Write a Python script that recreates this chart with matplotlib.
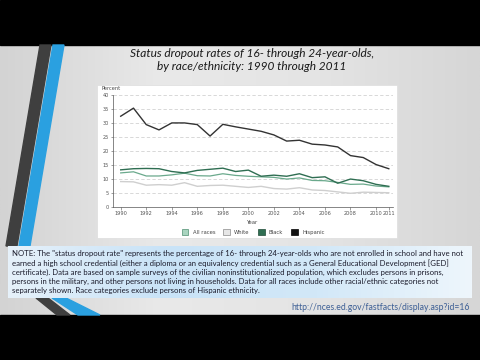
import matplotlib
matplotlib.use("Agg")
import matplotlib.pyplot as plt
import numpy as np
from matplotlib.patches import Rectangle, Polygon, Patch
from matplotlib.colors import LinearSegmentedColormap

# --- data ---
years = list(range(1990, 2012))
all_races = [12.1, 12.5, 11.0, 11.0, 11.4, 12.0, 11.1, 11.0, 11.8, 11.2, 10.9,
             10.7, 10.5, 9.9, 10.3, 9.4, 9.3, 8.7, 8.0, 8.1, 7.4, 7.1]
white = [9.0, 8.9, 7.7, 7.9, 7.7, 8.6, 7.3, 7.6, 7.7, 7.3, 6.9,
         7.3, 6.5, 6.3, 6.8, 6.0, 5.8, 5.3, 4.8, 5.2, 5.1, 5.0]
black = [13.2, 13.6, 13.7, 13.6, 12.6, 12.1, 13.0, 13.4, 13.8, 12.6, 13.1,
         10.9, 11.3, 10.9, 11.8, 10.4, 10.7, 8.4, 9.9, 9.3, 8.0, 7.3]
hispanic = [32.4, 35.3, 29.4, 27.5, 30.0, 30.0, 29.4, 25.3, 29.5, 28.6, 27.8,
            27.0, 25.7, 23.5, 23.8, 22.4, 22.1, 21.4, 18.3, 17.6, 15.1, 13.6]
xtick_years = [1990, 1992, 1994, 1996, 1998, 2000, 2002, 2004, 2006, 2008, 2010, 2011]
yticks = [0, 5, 10, 15, 20, 25, 30, 35, 40]

title = ("Status dropout rates of 16- through 24-year-olds,\n"
         "by race/ethnicity: 1990 through 2011")
note = ('NOTE: The "status dropout rate" represents the percentage of 16- through 24-year-olds who are not enrolled in school and have not\n'
        'earned a high school credential (either a diploma or an equivalency credential such as a General Educational Development [GED]\n'
        'certificate). Data are based on sample surveys of the civilian noninstitutionalized population, which excludes persons in prisons,\n'
        'persons in the military, and other persons not living in households. Data for all races include other racial/ethnic categories not\n'
        'separately shown. Race categories exclude persons of Hispanic ethnicity.')
url = "http://nces.ed.gov/fastfacts/display.asp?id=16"

W, H = 480, 360
fig = plt.figure(figsize=(4.8, 3.6), dpi=100)

# background "slide" axes in pixel coordinates
bg = fig.add_axes([0, 0, 1, 1])
bg.set_xlim(0, W)
bg.set_ylim(H, 0)
bg.axis("off")
grad = np.linspace(0, 1, 256)[None, :]
slide_cmap = LinearSegmentedColormap.from_list("slide", ["#d3d3d3", "#e9e9e9", "#e4e4e4", "#d6d6d6"])
bg.imshow(grad, extent=[0, W, 315, 45], cmap=slide_cmap, aspect="auto", zorder=0)
bg.add_patch(Rectangle((0, 0), W, 45, color="black", zorder=1))
bg.add_patch(Rectangle((0, 315), W, 45, color="black", zorder=1))

# decorative stripes
bg.add_patch(Polygon([(40, 45), (51, 45), (17, 246), (6, 246)], color="#3f3f3f", zorder=2))
bg.add_patch(Polygon([(53, 45), (64, 45), (30, 246), (19, 246)], color="#2aa0e0", zorder=2))
bg.add_patch(Polygon([(36, 298), (48, 298), (70, 315), (57, 315)], color="#3f3f3f", zorder=2))
bg.add_patch(Polygon([(52, 298), (66, 298), (100, 315), (78, 315)], color="#2aa0e0", zorder=2))

# title
bg.text(252, 60, title, ha="center", va="center", fontsize=8.6, style="italic",
        family="Lato", color="#1a1a1a", linespacing=1.3, zorder=3)

# chart panel
bg.add_patch(Rectangle((97, 85), 300, 153, facecolor="white", edgecolor="#dddddd",
                       lw=0.5, zorder=2))
bg.text(101, 89, "Percent", fontsize=3.6, color="#444444", va="center", zorder=3)
bg.text(253, 223, "Year", fontsize=3.8, color="#444444", ha="center", va="center", zorder=3)

# note box with light blue gradient
note_cmap = LinearSegmentedColormap.from_list("note", ["#e6f1fa", "#c9e3f7", "#d2e8f8", "#eef6fc"])
bg.imshow(grad, extent=[8, 472, 298, 246], cmap=note_cmap, aspect="auto", zorder=3)
bg.text(12, 272, note, fontsize=5.6, family="Lato", color="#1a1a2a",
        va="center", ha="left", linespacing=1.35, zorder=5)
bg.text(470, 307, url, fontsize=6.2, family="Lato", color="#3d5f95",
        va="center", ha="right", zorder=3)

# chart axes
ax = fig.add_axes([113.3 / W, 1 - 206.7 / H, (393 - 113.3) / W, (206.7 - 95) / H])
ax.set_facecolor("none")
ax.plot(years, white, color="#cfcfcf", lw=1.0)
ax.plot(years, all_races, color="#6aa98c", lw=0.9)
ax.plot(years, black, color="#2f6e52", lw=1.0)
ax.plot(years, hispanic, color="#333333", lw=1.0)

ax.set_xlim(1989.42, 2011.33)
ax.set_ylim(0, 40)
ax.set_yticks(yticks)
ax.set_xticks(xtick_years)
ax.tick_params(labelsize=3.6, colors="#555555", length=1.8, width=0.4, pad=1.5)
for s in ["top", "right"]:
    ax.spines[s].set_visible(False)
for s in ["left", "bottom"]:
    ax.spines[s].set_linewidth(0.5)
    ax.spines[s].set_color("#555555")
for v in yticks[1:]:
    ax.axhline(v, color="#bbbbbb", lw=0.4, ls=(0, (6, 4)), zorder=0)

handles = [Patch(facecolor="#a9d4bf", edgecolor="#4f8f72", lw=0.5, label="All races"),
           Patch(facecolor="#e6e6e6", edgecolor="#8a8a8a", lw=0.5, label="White"),
           Patch(facecolor="#2f6e52", edgecolor="#1e4a36", lw=0.5, label="Black"),
           Patch(facecolor="#111111", edgecolor="#000000", lw=0.5, label="Hispanic")]
ax.legend(handles=handles, loc="center", bbox_to_anchor=(0.5, -0.225), ncol=4,
          frameon=False, fontsize=3.8, handlelength=1.3, handleheight=1.3,
          columnspacing=1.5, handletextpad=0.8, labelcolor="#444444")

fig.savefig("out.png", dpi=100)
